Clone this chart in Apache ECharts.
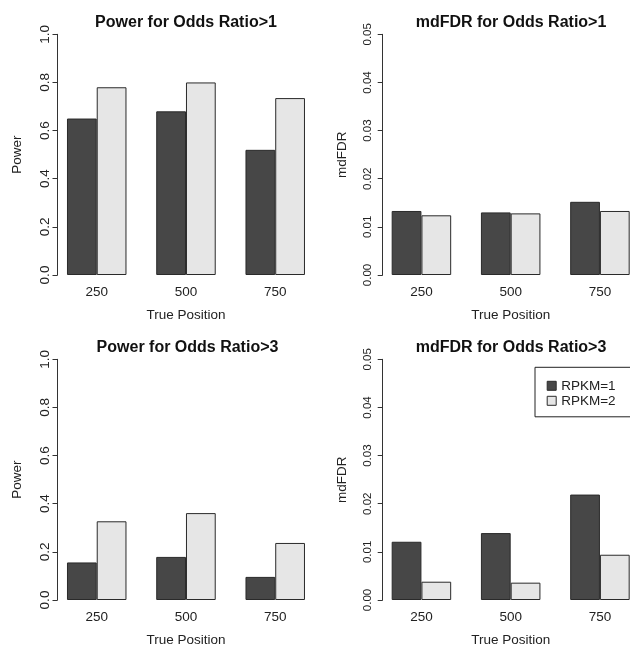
<!DOCTYPE html>
<html>
<head>
<meta charset="utf-8">
<script src="https://cdn.jsdelivr.net/npm/echarts@6/dist/echarts.min.js"></script>
<style>
html,body{margin:0;padding:0;background:#fff;}
#chart{width:630px;height:649px;}
</style>
</head>
<body>
<div id="chart"></div>
<script>
const categories = ['250', '500', '750'];
const seriesNames = ['RPKM=1', 'RPKM=2'];
const titles = ['Power for Odds Ratio>1', 'mdFDR for Odds Ratio>1', 'Power for Odds Ratio>3', 'mdFDR for Odds Ratio>3'];
const yNames = ['Power', 'mdFDR', 'Power', 'mdFDR'];
const xName = 'True Position';
const powerOR1_rpkm1 = [0.65, 0.68, 0.52];
const powerOR1_rpkm2 = [0.78, 0.80, 0.735];
const fdrOR1_rpkm1 = [0.0133, 0.0130, 0.0152];
const fdrOR1_rpkm2 = [0.0124, 0.0128, 0.0133];
const powerOR3_rpkm1 = [0.156, 0.179, 0.096];
const powerOR3_rpkm2 = [0.327, 0.361, 0.237];
const fdrOR3_rpkm1 = [0.0121, 0.0139, 0.0219];
const fdrOR3_rpkm2 = [0.0038, 0.0036, 0.0094];
const powerTicks = {min: 0, max: 1, interval: 0.2, digits: 1};
const fdrTicks = {min: 0, max: 0.05, interval: 0.01, digits: 2};

const panelData = [
  [powerOR1_rpkm1, powerOR1_rpkm2],
  [fdrOR1_rpkm1, fdrOR1_rpkm2],
  [powerOR3_rpkm1, powerOR3_rpkm2],
  [fdrOR3_rpkm1, fdrOR3_rpkm2]
];
const panelTicks = [powerTicks, fdrTicks, powerTicks, fdrTicks];

const FONT = 'Liberation Sans';
const TXT = '#222';
const colors = ['#474747', '#e6e6e6'];
const edge = '#2a2a2a';

const gridLefts = [52.1, 376.8, 52.1, 376.8];
const gridTops = [34.3, 34.3, 359.3, 359.3];
const axisOffsets = [-5.4, -5.9, -5.4, -5.9];
const titleCenters = [181, 506, 182.5, 506];
const titleTops = [10, 10, 335, 335];
const yLabelSize = [13.5, 11.5, 13.5, 11.5];
const yLabelMargin = [5.5, 8.5, 5.5, 8.5];

const grids = [], xAxes = [], yAxes = [], series = [], titleOpts = [];
for (let i = 0; i < 4; i++) {
  grids.push({left: gridLefts[i], top: gridTops[i], width: 267.75, height: 240.7,
    containLabel: false, outerBoundsMode: 'none'});
  xAxes.push({
    type: 'category', gridIndex: i, data: categories,
    axisLine: {show: false}, axisTick: {show: false},
    axisLabel: {fontFamily: FONT, fontSize: 13.5, color: TXT, margin: 10},
    name: xName, nameLocation: 'middle', nameGap: 33,
    nameTextStyle: {fontFamily: FONT, fontSize: 13.5, color: TXT}
  });
  const t = panelTicks[i];
  yAxes.push({
    type: 'value', gridIndex: i, min: t.min, max: t.max, interval: t.interval,
    offset: axisOffsets[i],
    axisLine: {show: true, lineStyle: {color: '#333', width: 1}},
    axisTick: {show: true, length: 5, lineStyle: {color: '#333'}},
    splitLine: {show: false},
    axisLabel: {rotate: 90, fontFamily: FONT, fontSize: yLabelSize[i], color: TXT, margin: yLabelMargin[i],
      formatter: (v) => v.toFixed(t.digits)},
    name: yNames[i], nameLocation: 'middle', nameGap: 33,
    nameTextStyle: {fontFamily: FONT, fontSize: 13.5, color: TXT}
  });
  for (let s = 0; s < 2; s++) {
    series.push({
      type: 'bar', name: seriesNames[s], xAxisIndex: i, yAxisIndex: i,
      data: panelData[i][s],
      barGap: '0%', barCategoryGap: '33.333%',
      itemStyle: {color: colors[s], borderColor: edge, borderWidth: 1},
      emphasis: {disabled: true}, animation: false
    });
  }
  titleOpts.push({
    text: titles[i], left: titleCenters[i], top: titleTops[i], textAlign: 'center',
    textStyle: {fontFamily: FONT, fontSize: 16, fontWeight: 'bold', color: '#111'}
  });
}

const chart = echarts.init(document.getElementById('chart'), null, {renderer: 'canvas'});
chart.setOption({
  backgroundColor: '#fff',
  animation: false,
  title: titleOpts,
  grid: grids,
  xAxis: xAxes,
  yAxis: yAxes,
  legend: {
    data: seriesNames.map((n, k) => ({name: n, icon: 'rect', itemStyle: {color: colors[k], borderColor: edge, borderWidth: 1}})),
    orient: 'vertical', left: 535, top: 367.3,
    itemWidth: 9, itemHeight: 9, itemGap: 0,
    padding: [11, 40, 8.5, 11.7],
    borderColor: '#222', borderWidth: 1,
    selectedMode: false,
    textStyle: {fontFamily: FONT, fontSize: 13.5, color: TXT, lineHeight: 15}
  },
  series: series
});
</script>
</body>
</html>
